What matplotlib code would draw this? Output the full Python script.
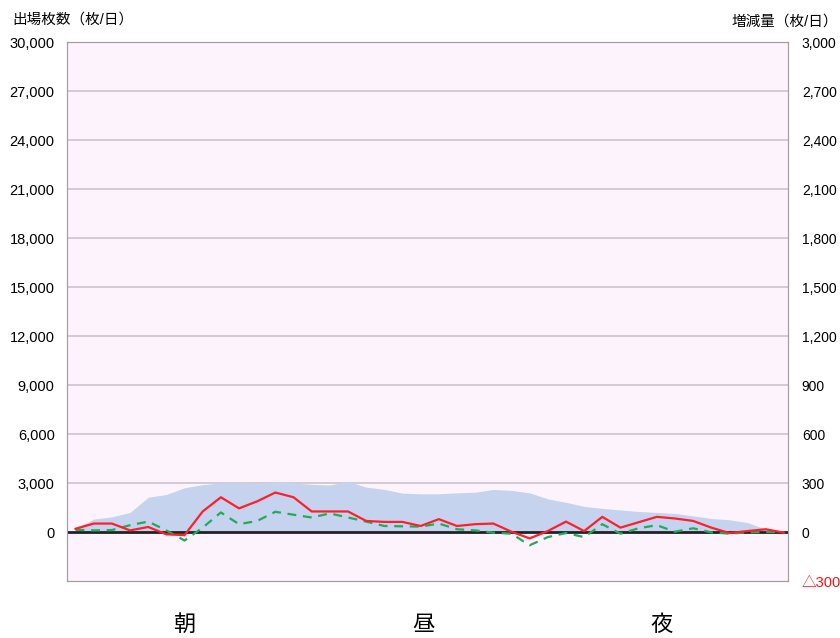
import matplotlib
matplotlib.use("Agg")
import matplotlib.pyplot as plt
import numpy as np

plt.rcParams['font.family'] = ['Liberation Sans', 'Noto Sans CJK JP']

# --- data ---
# 出場枚数 (left axis, area)
issued = [250, 790, 930, 1200, 2130, 2300, 2710, 2900, 3000, 3000,
          2960, 3100, 3000, 2920, 2880, 3100, 2750, 2610, 2380, 2340,
          2340, 2400, 2440, 2610, 2550, 2400, 2030, 1820, 1570, 1450,
          1350, 1260, 1200, 1140, 990, 830, 750, 580, 170, 0]
# 増減量 (right axis), red solid
change_red = [20, 52, 52, 10, 31, -14, -19, 126, 213, 145,
              188, 242, 213, 126, 126, 126, 68, 62, 62, 37,
              79, 37, 48, 52, 2, -39, 6, 64, 6, 93,
              27, 60, 93, 83, 68, 27, -6, 6, 17, -4]
# 増減量 (right axis), green dashed
change_green = [14, 10, 12, 42, 64, 10, -52, 27, 120, 48,
                68, 124, 106, 89, 114, 89, 64, 37, 35, 33,
                52, 17, 10, -4, -10, -81, -31, -6, -31, 48,
                -10, 23, 42, 2, 23, -2, -10, -2, 0, 0]
periods = ["朝", "昼", "夜"]
left_ticks = list(range(0, 30001, 3000))
right_ticks = list(range(-300, 3001, 300))

x = np.arange(len(issued))

fig = plt.figure(figsize=(8.4, 6.38), dpi=100)
ax = fig.add_axes([0.080, 0.0893, 0.858, 0.8447])
ax.set_facecolor('#fdf3fd')

ax.fill_between(x, 0, issued, color='#c5d3ee', linewidth=0, zorder=2)
ax.set_ylim(-3000, 30000)
ax.set_xlim(-0.46, 39.22)
ax.set_yticks(left_ticks)
ax.set_yticklabels([f"{v:,}" for v in left_ticks], fontsize=10.5)
ax.tick_params(axis='y', length=0, pad=9)
ax.set_xticks([])
for v in left_ticks[1:]:
    ax.axhline(v, color='#cbc3cc', linewidth=1.2, zorder=1)
ax.axhline(0, color='#222222', linewidth=2, zorder=5)

for side in ['left', 'right', 'bottom', 'top']:
    ax.spines[side].set_color('#a0a0a0')

ax2 = ax.twinx()
ax2.plot(x, change_red, color='#ff1f2a', linewidth=1.6, zorder=4)
ax2.plot(x, change_green, color='#22aa5a', linewidth=1.6,
         linestyle=(0, (4, 3)), zorder=3)
ax2.set_ylim(-300, 3000)
ax2.set_yticks(right_ticks)
labels = ["△300"] + [f"{v:,}" for v in right_ticks[1:]]
ax2.set_yticklabels(labels, fontsize=10)
ax2.get_yticklabels()[0].set_color('#ff1010')
ax2.get_yticklabels()[0].set_fontsize(10.5)
ax2.tick_params(axis='y', length=0, pad=10)
for side in ['left', 'right', 'bottom', 'top']:
    ax2.spines[side].set_color('#a0a0a0')

fig.text(12 / 840, 1 - 20 / 638, "出場枚数（枚/日）", fontsize=10.5,
         ha='left', va='center')
fig.text(838 / 840, 1 - 22 / 638, "増減量（枚/日）", fontsize=10.5,
         ha='right', va='center')

for px, label in zip([184, 423, 662], periods):
    fig.text(px / 840, 1 - 625 / 638, label, fontsize=16, ha='center', va='center')

fig.savefig("out.png", dpi=100)
